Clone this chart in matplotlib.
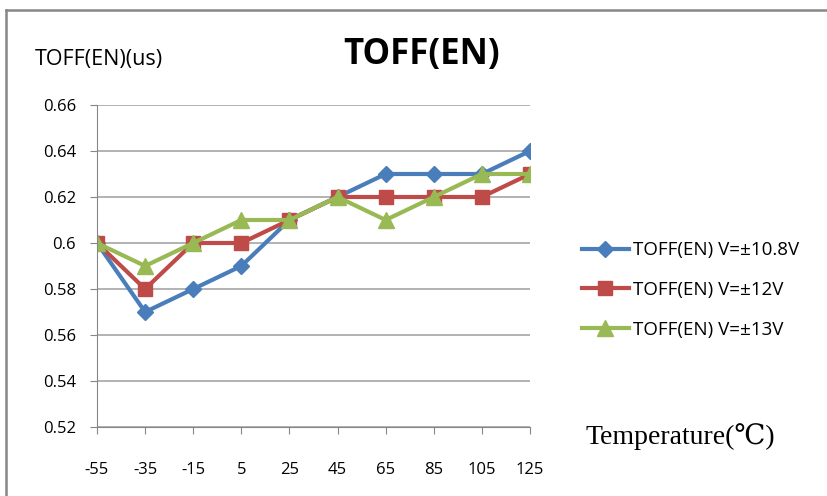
import matplotlib.pyplot as plt
from matplotlib.lines import Line2D

# data
temps = ['-55', '-35', '-15', '5', '25', '45', '65', '85', '105', '125']
toff_108 = [0.60, 0.57, 0.58, 0.59, 0.61, 0.62, 0.63, 0.63, 0.63, 0.64]
toff_12 = [0.60, 0.58, 0.60, 0.60, 0.61, 0.62, 0.62, 0.62, 0.62, 0.63]
toff_13 = [0.60, 0.59, 0.60, 0.61, 0.61, 0.62, 0.61, 0.62, 0.63, 0.63]
y_ticks = [0.52, 0.54, 0.56, 0.58, 0.60, 0.62, 0.64, 0.66]
y_labels = ['0.52', '0.54', '0.56', '0.58', '0.6', '0.62', '0.64', '0.66']

plt.rcParams['font.family'] = ['Open Sans', 'DejaVu Sans']

fig = plt.figure(figsize=(8.28, 4.96), dpi=100)
W, H = 828, 496

# outer frame of the chart area (only left and top edges are visible)
fig.add_artist(Line2D([6 / W, 6 / W], [0, 1 - 10 / H], transform=fig.transFigure,
                      color='#868686', linewidth=1.8))
fig.add_artist(Line2D([6 / W, 1], [1 - 10 / H, 1 - 10 / H], transform=fig.transFigure,
                      color='#868686', linewidth=1.8))

ax = fig.add_axes([97 / W, 1 - 427 / H, (530 - 97) / W, (427 - 105) / H])
x = list(range(len(temps)))

ax.plot(x, toff_108, color='#4A7EBB', marker='D', markersize=8, linewidth=3,
        label='TOFF(EN) V=\u00b110.8V')
ax.plot(x, toff_12, color='#BE4B48', marker='s', markersize=10, linewidth=3,
        label='TOFF(EN) V=\u00b112V')
ax.plot(x, toff_13, color='#98B954', marker='^', markersize=11, linewidth=3,
        label='TOFF(EN) V=\u00b113V')

ax.set_xlim(0, len(temps) - 1)
ax.set_ylim(0.52, 0.66)
ax.set_xticks(x)
ax.set_xticklabels(temps, fontsize=12)
ax.set_yticks(y_ticks)
ax.set_yticklabels(y_labels, fontsize=12)
ax.tick_params(axis='both', direction='out', length=5, color='#868686')
ax.tick_params(axis='y', pad=10)
ax.tick_params(axis='x', pad=20)

ax.grid(axis='y', color='#A6A6A6', linewidth=1.2)
ax.set_axisbelow(True)
for s in ['top', 'right']:
    ax.spines[s].set_visible(False)
ax.spines['left'].set_color('#868686')
ax.spines['bottom'].set_color('#868686')

fig.text(422 / W, 1 - 55 / H, 'TOFF(EN)', fontsize=25, fontweight='bold',
         ha='center', va='center')
fig.text(35 / W, 1 - 60 / H, 'TOFF(EN)(us)', fontsize=15.5, ha='left', va='center')
fig.text(585 / W, 1 - 437 / H, 'Temperature(\u2103)', fontsize=20,
         family=['Liberation Serif', 'DejaVu Serif'], ha='left', va='center')

fig.legend(loc='center left', bbox_to_anchor=(582 / W, 1 - 290 / H), frameon=False,
           fontsize=13.5, handlelength=2.5, labelspacing=1.15, handletextpad=0.2,
           borderaxespad=0, borderpad=0)

plt.savefig('out.png', dpi=100)
